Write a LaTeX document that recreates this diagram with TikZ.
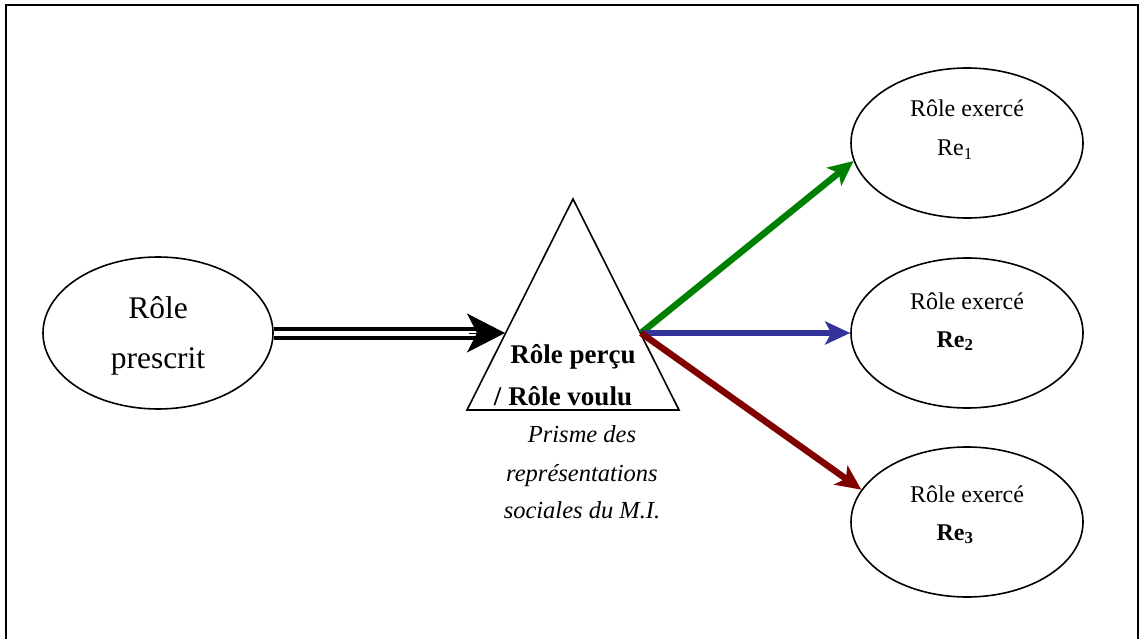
\documentclass[tikz,border=0pt]{standalone}
\usepackage{fontspec}
\setmainfont{Liberation Serif}
\usetikzlibrary{shapes.geometric,arrows.meta}
\definecolor{arrgreen}{RGB}{0,128,0}
\definecolor{arrblue}{RGB}{51,51,153}
\definecolor{arrred}{RGB}{128,0,0}
\begin{document}
\begin{tikzpicture}[x=1pt,y=-1pt,
  oval/.style={draw,ellipse,line width=1.6pt,minimum width=232pt,minimum height=150pt,inner sep=0pt},
  lbl/.style={anchor=base,inner sep=0pt},
  bigtxt/.style={lbl,font=\fontsize{31.5}{31.5}\selectfont},
  midtxt/.style={lbl,font=\fontsize{24}{24}\selectfont},
  midbold/.style={lbl,font=\fontsize{24}{24}\selectfont\bfseries},
  boldtxt/.style={lbl,font=\fontsize{27}{27}\selectfont\bfseries},
  ittxt/.style={lbl,font=\fontsize{24.5}{24.5}\selectfont\itshape},
  colarrow/.style={line width=6.5pt,-{Stealth[length=25pt,width=23pt,inset=6pt]}}]
\useasboundingbox (0,0) rectangle (1140,639);
\draw[line width=2pt] (6,639) -- (6,5) -- (1138,5) -- (1138,639);

% left ellipse
\node[oval,minimum width=230pt,minimum height=152pt] (pres) at (158,333) {};
\node[bigtxt] (t1) at (158,318) {Rôle};
\node[bigtxt] (t2) at (158,368) {prescrit};

% prism
\coordinate (apex) at (573,199);
\coordinate (bl) at (467,410);
\coordinate (br) at (679,410);
\coordinate (triL) at (505,333);
\coordinate (triR) at (641,333);
\draw[line width=1.6pt,line join=miter] (apex) -- (bl) -- (br) -- cycle;
\node[boldtxt] (p1) at (573,363) {Rôle perçu};
\node[boldtxt] (p2) at (563,405) {/ Rôle voulu};
\node[ittxt] (i1) at (582,442) {Prisme des};
\node[ittxt] (i2) at (582,481) {représentations};
\node[ittxt] (i3) at (582,518) {sociales du M.I.};

% right ellipses
\node[oval] (re1) at (967,143) {};
\node[oval] (re2) at (967,333) {};
\node[oval] (re3) at (967,522) {};
\node[midtxt] (r1a) at (967,117) {Rôle exercé};
\node[midtxt] (r1b) at (955,156) {Re\textsubscript{1}};
\node[midtxt] (r2a) at (967,309) {Rôle exercé};
\node[midbold] (r2b) at (955,347) {Re\textsubscript{2}};
\node[midtxt] (r3a) at (967,502) {Rôle exercé};
\node[midbold] (r3b) at (955,540) {Re\textsubscript{3}};

% double arrow
\draw[line width=4pt,double=white,double distance=5pt,shorten >=27pt] (pres.east) -- (triL);
\draw[line width=1pt,-{Stealth[length=38pt,width=39pt,inset=10pt]}] ([xshift=-36pt]triL) -- (triL);

% coloured arrows
\draw[colarrow,arrgreen] (triR) -- (re1.189);
\draw[colarrow,arrblue] (triR) -- (re2.west);
\draw[colarrow,arrred] (triR) -- (re3.163);
\end{tikzpicture}
\end{document}
